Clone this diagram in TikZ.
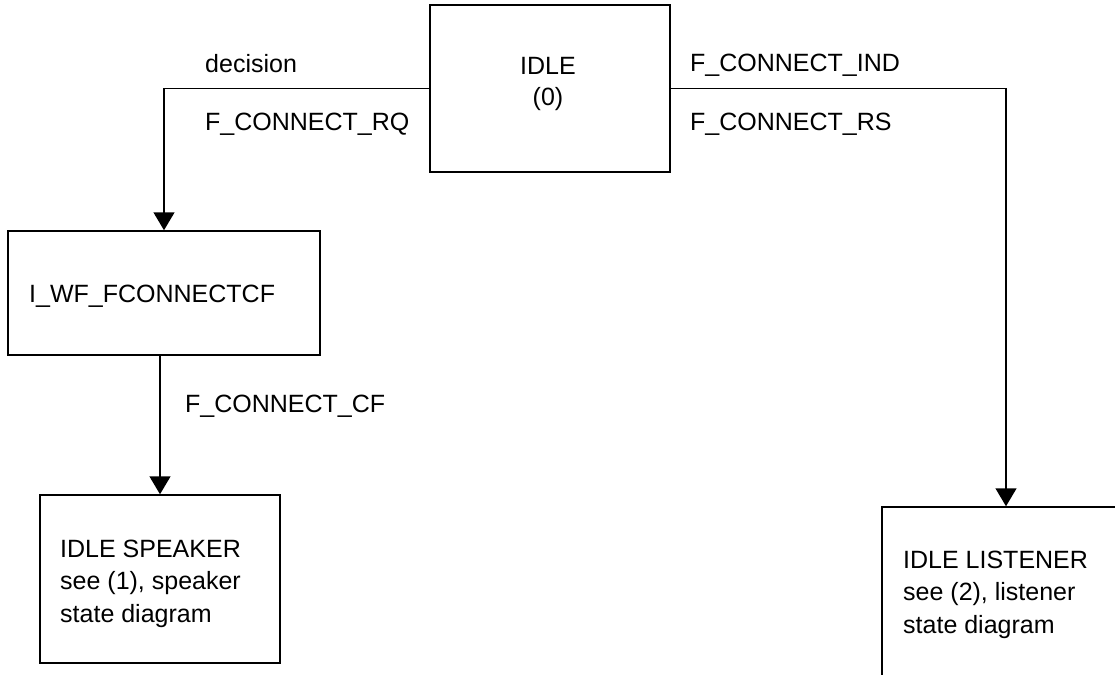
\documentclass[tikz,border=0pt]{standalone}
\usepackage{fontspec}
\setmainfont{Liberation Sans}
\usetikzlibrary{arrows.meta}
\begin{document}
\begin{tikzpicture}[x=1pt,y=-1pt,
  box/.style={draw,line width=1.5pt,inner sep=0pt,minimum width=#1},
  lbl/.style={inner sep=0pt,anchor=base west,font=\fontsize{25}{32.5}\selectfont,align=left},
  conn/.style={line width=1.5pt,-{Triangle[width=21pt,length=18pt]}}]
\useasboundingbox (0,0) rectangle (1115,674);
\clip (0,0) rectangle (1115,674);
\node[box=240pt,minimum height=167pt] (idle) at (550,88.5) {};
\node[box=312pt,minimum height=124pt] (wf) at (164,293) {};
\node[box=240pt,minimum height=168pt] (spk) at (160,579) {};
\node[box=248pt,minimum height=186pt] (lis) at (1006,600) {};
\node[lbl,anchor=base,align=center,font=\fontsize{25}{31}\selectfont] (idletxt) at (548,106) {IDLE\\(0)};
\node[lbl] (dec) at (205,73) {decision};
\node[lbl] (rq) at (205,130) {F\_CONNECT\_RQ};
\node[lbl] (ind) at (690,72) {F\_CONNECT\_IND};
\node[lbl] (rs) at (690,130) {F\_CONNECT\_RS};
\node[lbl] (wftxt) at (29,302) {I\_WF\_FCONNECTCF};
\node[lbl] (cf) at (185,412) {F\_CONNECT\_CF};
\node[lbl] (spktxt) at (60,622) {IDLE SPEAKER\\see (1), speaker\\state diagram};
\node[lbl] (listxt) at (903,633) {IDLE LISTENER\\see (2), listener\\state diagram};
\draw[conn] (idle.west) -| (wf.north);
\draw[conn] (spk.north |- wf.south) -- (spk.north);
\draw[conn] (idle.east) -| (lis.north);
\end{tikzpicture}
\end{document}
